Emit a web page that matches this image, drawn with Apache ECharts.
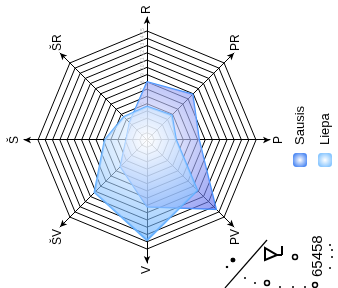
<!DOCTYPE html>
<html>
<head>
<meta charset="utf-8">
<script src="https://cdn.jsdelivr.net/npm/echarts@6/dist/echarts.min.js"></script>
<style>
  html, body { margin: 0; padding: 0; background: #fff; overflow: hidden; width: 338px; height: 288px; }
  /* the reference is the chart turned a quarter left */
  #chart { position: absolute; left: 25px; top: -25px; width: 288px; height: 338px; transform: rotate(-90deg); }
</style>
</head>
<body>
<div id="chart"></div>
<script>
  // indicators, counter-clockwise from top (as ECharts lays them out)
  const directions = ["Š", "ŠV", "V", "PV", "P", "PR", "R", "ŠR"];
  const maxValue = 15;
  const sausis = [2.9, 5.2, 9.2, 13.5, 7.2, 8.9, 8.0, 3.4];
  const liepa = [5.8, 10.2, 13.8, 9.8, 4.0, 4.8, 4.6, 4.5];
  const stampText = "65458";

  const CX = 148, CY = 147, R = 109;
  const radial = (edge) => ({
    type: "radial", x: CX, y: CY, r: R, global: true,
    colorStops: [{ offset: 0, color: "rgba(255,255,255,0.95)" }, { offset: 1, color: edge }]
  });
  const iconGrad = (edge) => ({
    type: "radial", x: 0.5, y: 0.5, r: 0.6,
    colorStops: [{ offset: 0, color: "#ffffff" }, { offset: 1, color: edge }]
  });

  const chart = echarts.init(document.getElementById("chart"), null, { renderer: "canvas" });

  // stray stamp in the corner
  const dots = [[21, 227, 1.2], [28, 233, 2.4], [10, 245, 1], [5, 255, 1], [1, 280, 1], [1, 293, 1], [1, 305, 1],
    [43, 330, 1], [38, 332, 1], [31, 332, 1], [20, 330, 1]];
  const rings = [[31, 295], [5, 267], [3, 315]];
  const graphic = [
    { type: "line", shape: { x1: 0, y1: 225, x2: 48, y2: 267 }, style: { stroke: "#000", lineWidth: 1.3 } },
    { type: "polygon", shape: { points: [[40, 265], [28, 265], [33, 277]] }, style: { stroke: "#000", fill: "none", lineWidth: 2 } },
    { type: "line", shape: { x1: 33, y1: 277, x2: 33, y2: 282 }, style: { stroke: "#000", lineWidth: 2 } },
    { type: "line", shape: { x1: 33, y1: 282, x2: 42, y2: 282 }, style: { stroke: "#000", lineWidth: 2 } },
    { type: "text", x: 11, y: 318, style: { text: stampText, fill: "#000", font: "15px 'Liberation Sans', Arial", verticalAlign: "middle" } }
  ].concat(dots.map(d => ({ type: "circle", shape: { cx: d[0], cy: d[1], r: d[2] }, style: { fill: "#000" } })))
   .concat(rings.map(c => ({ type: "circle", shape: { cx: c[0], cy: c[1], r: 2.5 }, style: { fill: "none", stroke: "#000", lineWidth: 1.5 } })));

  chart.setOption({
    animation: false,
    backgroundColor: "#fff",
    textStyle: { fontFamily: "'Liberation Sans', Arial, sans-serif" },
    legend: {
      orient: "vertical", left: 116, top: 288, itemWidth: 14, itemHeight: 14, itemGap: 11,
      textStyle: { fontSize: 13, color: "#000", padding: [0, 0, 0, 3] },
      data: [
        { name: "Sausis", icon: "roundRect", itemStyle: { color: iconGrad("#3f7ff2"), borderWidth: 0 } },
        { name: "Liepa", icon: "roundRect", itemStyle: { color: iconGrad("#7cc0ff"), borderWidth: 0 } }
      ]
    },
    graphic: graphic,
    radar: [
      {
        // grid rings
        center: [CX, CY], radius: R, startAngle: 90, shape: "polygon", splitNumber: 15,
        indicator: directions.map(d => d === "R"
          ? { name: d, max: maxValue, axisLabel: { show: true, color: "#bbb", fontSize: 5, margin: 2 } }
          : { name: d, max: maxValue }),
        axisName: { show: false },
        axisLine: { show: false },
        axisLabel: { show: false },
        splitLine: { lineStyle: { color: "#000", width: 1 } },
        splitArea: { show: false }
      },
      {
        // arrowed axes with names
        center: [CX, CY], radius: 123, startAngle: 90, shape: "polygon", splitNumber: 1,
        indicator: directions.map(d => ({ name: d, max: maxValue })),
        nameGap: 3,
        axisName: { color: "#000", fontSize: 12 },
        axisLine: { show: true, symbol: ["none", "arrow"], symbolSize: [5, 7], lineStyle: { color: "#000", width: 1 } },
        splitLine: { show: false },
        splitArea: { show: false }
      }
    ],
    series: [{
      type: "radar", radarIndex: 0, symbol: "none",
      data: [
        { name: "Sausis", value: sausis,
          lineStyle: { color: "#3f97ff", width: 1.5 },
          itemStyle: { color: "#3f7ff2" },
          areaStyle: { color: radial("rgba(65,85,235,0.9)") } },
        { name: "Liepa", value: liepa,
          lineStyle: { color: "#5aabff", width: 2, opacity: 0.9 },
          itemStyle: { color: "#7cc0ff" },
          areaStyle: { color: radial("rgba(80,165,255,0.85)") } }
      ]
    }]
  });
</script>
</body>
</html>
